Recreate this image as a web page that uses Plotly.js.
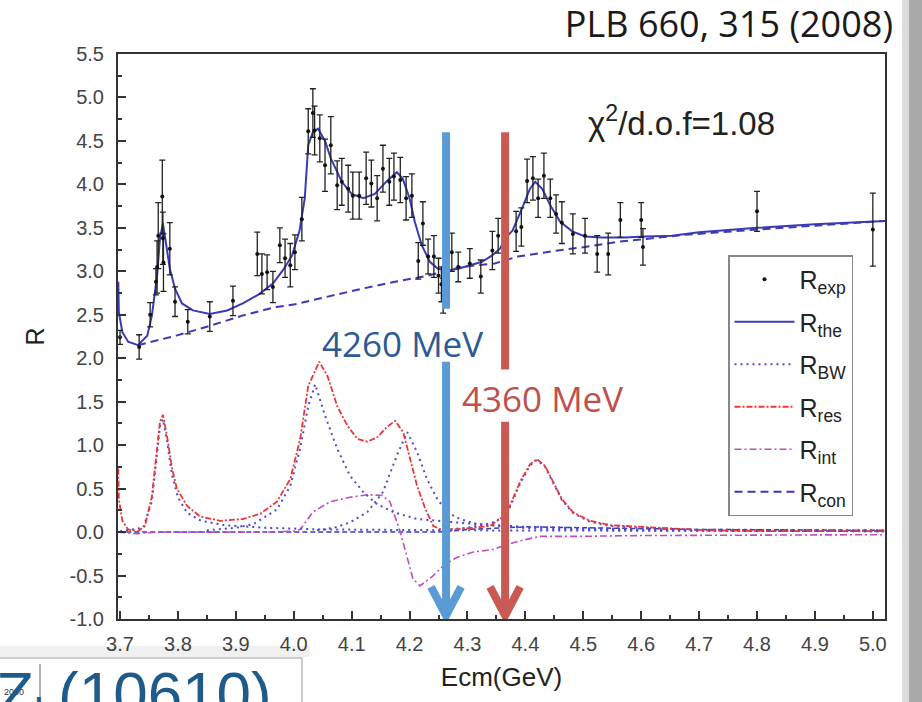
<!DOCTYPE html>
<html><head><meta charset="utf-8">
<script src="https://cdn.plot.ly/plotly-3.0.1.min.js"></script>
<style>html,body{margin:0;padding:0;background:#fff}#chart{width:922px;height:702px}</style>
</head><body><div id="chart"></div>
<script>
// ---- measured data (Ecm in GeV, R) ----
const expE=[3.700,3.733,3.752,3.762,3.764,3.766,3.773,3.774,3.775,3.786,3.795,3.817,3.855,3.895,3.937,3.945,3.954,3.964,3.976,3.985,3.994,4.002,4.014,4.025,4.033,4.036,4.045,4.054,4.064,4.075,4.083,4.094,4.102,4.113,4.125,4.134,4.144,4.154,4.165,4.173,4.184,4.194,4.204,4.215,4.223,4.232,4.242,4.250,4.255,4.258,4.273,4.284,4.304,4.323,4.343,4.353,4.384,4.393,4.403,4.413,4.422,4.432,4.443,4.453,4.463,4.482,4.503,4.524,4.543,4.564,4.600,4.603,4.800,5.000];
const expR=[2.24,2.13,2.50,2.88,3.05,3.41,3.86,3.38,3.10,3.26,2.65,2.42,2.48,2.66,3.20,2.97,2.99,2.82,3.30,3.15,3.07,3.22,3.60,4.61,4.82,4.62,4.53,4.22,4.45,3.99,4.03,3.95,3.87,3.87,4.07,4.01,3.84,4.18,4.03,4.09,4.05,3.84,3.87,3.12,3.55,3.17,3.17,2.95,2.85,2.72,3.22,3.05,3.09,2.94,3.24,3.41,3.46,3.51,4.04,4.07,3.84,4.10,3.84,3.66,3.56,3.43,3.41,3.20,3.20,3.59,3.59,3.28,3.69,3.48];
const expErr=[0.08,0.14,0.14,0.15,0.30,0.38,0.42,0.30,0.33,0.30,0.17,0.14,0.17,0.17,0.25,0.23,0.20,0.18,0.20,0.22,0.25,0.20,0.25,0.26,0.28,0.28,0.27,0.30,0.33,0.28,0.27,0.27,0.27,0.27,0.30,0.27,0.26,0.27,0.27,0.27,0.26,0.25,0.25,0.21,0.25,0.20,0.24,0.20,0.20,0.20,0.22,0.17,0.17,0.19,0.22,0.20,0.23,0.22,0.25,0.25,0.22,0.26,0.22,0.22,0.24,0.23,0.20,0.21,0.24,0.20,0.20,0.21,0.23,0.42];

// R_the (total fit)
const theE=[3.697,3.698,3.704,3.714,3.731,3.747,3.755,3.764,3.769,3.774,3.779,3.786,3.795,3.807,3.826,3.855,3.885,3.912,3.941,3.964,3.981,3.997,4.010,4.019,4.025,4.033,4.042,4.054,4.064,4.083,4.100,4.120,4.140,4.161,4.178,4.188,4.200,4.209,4.221,4.235,4.249,4.266,4.284,4.304,4.325,4.342,4.356,4.368,4.378,4.394,4.408,4.417,4.429,4.443,4.460,4.481,4.503,4.532,4.572,4.606,4.653,4.700,4.800,4.900,5.021];
const theR=[2.88,2.53,2.30,2.19,2.15,2.26,2.49,2.95,3.38,3.55,3.34,3.03,2.80,2.63,2.55,2.51,2.55,2.63,2.74,2.86,3.01,3.18,3.47,3.84,4.45,4.60,4.64,4.50,4.30,4.03,3.89,3.84,3.89,4.04,4.14,4.07,3.84,3.57,3.30,3.11,3.03,3.01,3.03,3.07,3.11,3.18,3.26,3.40,3.47,3.72,3.95,4.03,3.95,3.76,3.57,3.46,3.40,3.39,3.39,3.40,3.41,3.45,3.50,3.54,3.58];

// R_con (continuum)
const conE=[3.731,3.797,3.854,3.911,3.970,4.002,4.027,4.059,4.118,4.175,4.232,4.290,4.347,4.387,4.445,4.503,4.560,4.619,4.676,4.800,5.021];
const conR=[2.15,2.26,2.37,2.49,2.59,2.62,2.66,2.71,2.80,2.88,2.95,3.05,3.09,3.17,3.23,3.28,3.34,3.38,3.42,3.48,3.58];

// R_res (resonances with interference)
const resE=[3.697,3.698,3.704,3.714,3.731,3.743,3.755,3.764,3.769,3.774,3.781,3.790,3.798,3.816,3.838,3.873,3.912,3.942,3.971,3.994,4.011,4.025,4.044,4.058,4.075,4.093,4.110,4.127,4.144,4.161,4.175,4.189,4.201,4.213,4.227,4.241,4.258,4.282,4.310,4.339,4.362,4.373,4.391,4.408,4.420,4.434,4.448,4.463,4.482,4.511,4.546,4.598,4.713,4.850,5.021];
const resR=[0.73,0.38,0.13,0.03,0.01,0.07,0.41,0.96,1.27,1.35,1.11,0.73,0.50,0.30,0.18,0.13,0.15,0.21,0.35,0.61,1.07,1.68,1.96,1.80,1.45,1.22,1.07,1.04,1.09,1.21,1.28,1.15,0.84,0.53,0.27,0.07,0.02,0.03,0.05,0.07,0.18,0.30,0.58,0.78,0.84,0.76,0.58,0.38,0.23,0.13,0.08,0.06,0.02,0.01,0.01];

// R_BW (individual Breit-Wigner components)
const bw3770E=[3.700,3.740,3.755,3.764,3.769,3.774,3.781,3.790,3.800,3.816,3.840,3.880,3.950,4.050,4.300,5.021];
const bw3770R=[0.01,0.05,0.35,0.90,1.22,1.30,1.05,0.65,0.40,0.22,0.13,0.08,0.05,0.03,0.02,0.01];
const bw4040E=[3.850,3.900,3.930,3.971,3.994,4.011,4.025,4.037,4.054,4.075,4.097,4.120,4.144,4.172,4.213,4.253,4.300,4.400,4.600,5.021];
const bw4040R=[0.02,0.05,0.09,0.26,0.53,0.96,1.45,1.70,1.34,0.96,0.65,0.46,0.32,0.23,0.15,0.13,0.10,0.06,0.03,0.02];
const bw4160E=[4.040,4.070,4.097,4.127,4.154,4.178,4.196,4.213,4.230,4.248,4.265,4.287,4.317,4.351,4.420,4.600,5.021];
const bw4160R=[0.02,0.05,0.11,0.23,0.46,0.88,1.15,0.92,0.61,0.38,0.23,0.15,0.09,0.07,0.04,0.02,0.01];
const bw4415E=[4.250,4.300,4.340,4.362,4.373,4.391,4.408,4.420,4.434,4.448,4.463,4.482,4.511,4.546,4.600,4.713,5.021];
const bw4415R=[0.02,0.05,0.10,0.17,0.28,0.56,0.77,0.83,0.75,0.57,0.37,0.22,0.12,0.07,0.05,0.02,0.01];

// R_int (interference term)
const intE=[3.697,3.730,3.760,3.950,4.000,4.011,4.033,4.063,4.097,4.127,4.153,4.166,4.184,4.196,4.206,4.218,4.241,4.258,4.282,4.310,4.344,4.361,4.391,4.425,4.482,4.600,5.021];
const intR=[0.00,-0.02,0.00,0.00,0.01,0.03,0.23,0.35,0.40,0.43,0.42,0.35,0.00,-0.31,-0.54,-0.62,-0.50,-0.39,-0.29,-0.23,-0.20,-0.16,-0.10,-0.05,-0.05,-0.04,-0.03];

// near-zero dashed baseline component
const baseE=[3.697,4.250,4.300,4.400,4.500,4.700,5.021];
const baseR=[0.00,0.00,0.03,0.06,0.05,0.03,0.02];

// axes
const xTicks=[3.7,3.8,3.9,4.0,4.1,4.2,4.3,4.4,4.5,4.6,4.7,4.8,4.9,5.0];
const yTicks=[-1.0,-0.5,0.0,0.5,1.0,1.5,2.0,2.5,3.0,3.5,4.0,4.5,5.0,5.5];
// marked energies (GeV)
const markE=[4.263,4.365];

const BLUE='#3a3ab8', BWC='#4b4bd2', RED='#ee3434', MAG='#c24ac2';
const lg={family:'Liberation Sans, Arial, sans-serif',size:25,color:'#222'};

const traces=[
 {x:baseE,y:baseR,mode:'lines',line:{color:BLUE,width:1.5,dash:'5px,3px'},showlegend:false,hoverinfo:'skip'},
 {x:intE,y:intR,mode:'lines',name:'R<sub>int</sub>',legendgroup:'int',legendrank:5,line:{color:MAG,width:1.6,dash:'7px,3px,2px,3px'}},
 {x:bw3770E,y:bw3770R,mode:'lines',name:'R<sub>BW</sub>',legendgroup:'bw',legendrank:3,line:{color:BWC,width:2,dash:'2px,4px'}},
 {x:bw4040E,y:bw4040R,mode:'lines',legendgroup:'bw',showlegend:false,line:{color:BWC,width:2,dash:'2px,4px'}},
 {x:bw4160E,y:bw4160R,mode:'lines',legendgroup:'bw',showlegend:false,line:{color:BWC,width:2,dash:'2px,4px'}},
 {x:bw4415E,y:bw4415R,mode:'lines',legendgroup:'bw',showlegend:false,line:{color:BWC,width:2,dash:'2px,4px'}},
 {x:resE,y:resR,mode:'lines',name:'R<sub>res</sub>',legendgroup:'res',legendrank:4,line:{color:RED,width:1.8,dash:'6px,2px,2px,2px'}},
 {x:conE,y:conR,mode:'lines',name:'R<sub>con</sub>',legendgroup:'con',legendrank:6,line:{color:BLUE,width:2,dash:'8px,5px'}},
 {x:theE,y:theR,mode:'lines',name:'R<sub>the</sub>',legendgroup:'the',legendrank:2,line:{color:BLUE,width:2}},
 {x:expE,y:expR,mode:'markers',name:'R<sub>exp</sub>',legendgroup:'exp',legendrank:1,marker:{color:'#111',size:4},
  error_y:{type:'data',array:expErr,visible:true,color:'#222',thickness:1.3,width:3}}
];

function arrow(e, segs, col){
  const s=[];
  segs.forEach(g=>s.push({type:'line',xref:'x',yref:'y',x0:e,x1:e,y0:g[0],y1:g[1],line:{color:col,width:8},layer:'above'}));
  const tip=-0.96, dx=0.026, dy=0.33;
  s.push({type:'path',xref:'x',yref:'y',path:`M${e-dx},${tip+dy} L${e},${tip} L${e+dx},${tip+dy}`,line:{color:col,width:8},layer:'above'});
  return s;
}
const pxX=p=>(p-118)/767, pxY=p=>(619-p)/565;

const shapes=[
 ...arrow(markE[0],[[4.60,2.57],[1.96,-0.96]],'#5b9bd5'),
 ...arrow(markE[1],[[4.60,1.87],[1.27,-0.96]],'#c95a53'),
 // right slide edge shadow
 {type:'rect',xref:'paper',yref:'paper',x0:pxX(902),x1:pxX(909),y0:pxY(710),y1:pxY(-5),fillcolor:'#dcdcdc',line:{width:0},layer:'above'},
 {type:'rect',xref:'paper',yref:'paper',x0:pxX(909),x1:pxX(930),y0:pxY(710),y1:pxY(-5),fillcolor:'#a9a9a9',line:{width:0},layer:'above'},
 // bottom-left overlapping slide box
 {type:'rect',xref:'paper',yref:'paper',x0:pxX(0),x1:pxX(310),y0:pxY(646),y1:pxY(657),fillcolor:'rgba(0,0,0,0.06)',line:{width:0},layer:'above'},
 {type:'rect',xref:'paper',yref:'paper',x0:pxX(-5),x1:pxX(302),y0:pxY(658),y1:pxY(710),fillcolor:'#ffffff',line:{color:'#999',width:1},layer:'above'},
 {type:'line',xref:'paper',yref:'paper',x0:pxX(40),x1:pxX(40),y0:pxY(664),y1:pxY(710),line:{color:'#666',width:1},layer:'above'}
];

const annotations=[
 {xref:'paper',yref:'paper',x:pxX(586),y:pxY(121),xanchor:'left',yanchor:'middle',showarrow:false,
  text:'χ<sup>2</sup>/d.o.f=1.08',font:{family:'Liberation Sans, Arial, sans-serif',size:33,color:'#222'}},
 {xref:'paper',yref:'paper',x:pxX(320),y:pxY(343),xanchor:'left',yanchor:'middle',showarrow:false,
  text:'4260 MeV',font:{family:'Open Sans, sans-serif',size:35,color:'#2d5a97'}},
 {xref:'paper',yref:'paper',x:pxX(460),y:pxY(398),xanchor:'left',yanchor:'middle',showarrow:false,
  text:'4360 MeV',font:{family:'Open Sans, sans-serif',size:35,color:'#c0504d'}},
 {xref:'paper',yref:'paper',x:pxX(2),y:pxY(692),xanchor:'left',yanchor:'middle',showarrow:false,
  text:'2000',font:{family:'Liberation Sans, Arial',size:9,color:'#333'}},
 {xref:'paper',yref:'paper',x:pxX(-6),y:pxY(657),xanchor:'left',yanchor:'top',showarrow:false,
  text:'Z<sub>b</sub>(10610)',font:{family:'Liberation Sans, Arial, sans-serif',size:62,color:'#1e5b8a'}}
];

const axFont={family:'Liberation Sans, Arial, sans-serif',size:20,color:'#444'};
const layout={
 width:922,height:702,paper_bgcolor:'#fff',plot_bgcolor:'#fff',
 margin:{l:118,r:37,t:54,b:83},
 title:{text:'PLB 660, 315 (2008)',xref:'container',yref:'container',x:893/922,xanchor:'right',y:1-24/702,yanchor:'middle',
  font:{family:'Open Sans, sans-serif',size:36,color:'#1a1a1a'}},
 xaxis:{range:[3.6965,5.021],tickvals:xTicks,ticktext:xTicks.map(v=>v.toFixed(1)),ticks:'inside',ticklen:8,tickwidth:2,tickcolor:'#333',
  showline:true,linecolor:'#333',linewidth:2,mirror:true,showgrid:false,zeroline:false,tickfont:axFont,ticklabelstandoff:6,
  minor:{tickvals:xTicks.map(v=>v+0.05),ticks:'inside',ticklen:4,tickwidth:2,tickcolor:'#333',showgrid:false},
  title:{text:'Ecm(GeV)',font:{family:'Liberation Sans, Arial, sans-serif',size:26,color:'#222'},standoff:14}},
 yaxis:{range:[-1,5.5],tickvals:yTicks,ticktext:yTicks.map(v=>v.toFixed(1)),ticks:'inside',ticklen:8,tickwidth:2,tickcolor:'#333',
  showline:true,linecolor:'#333',linewidth:2,mirror:true,showgrid:false,zeroline:false,tickfont:axFont,ticklabelstandoff:8,
  minor:{tickvals:yTicks.map(v=>v+0.25),ticks:'inside',ticklen:4,tickwidth:2,tickcolor:'#333',showgrid:false},
  title:{text:'R',font:{family:'Liberation Sans, Arial, sans-serif',size:25,color:'#222'},standoff:18}},
 legend:{x:pxX(728),y:pxY(255),xanchor:'left',yanchor:'top',bgcolor:'#fff',bordercolor:'#888',borderwidth:1.5,
  font:lg,traceorder:'grouped',tracegroupgap:7,itemwidth:60},
 shapes:shapes,annotations:annotations,showlegend:true
};
Plotly.newPlot('chart',traces,layout,{displayModeBar:false,staticPlot:true});
</script></body></html>
